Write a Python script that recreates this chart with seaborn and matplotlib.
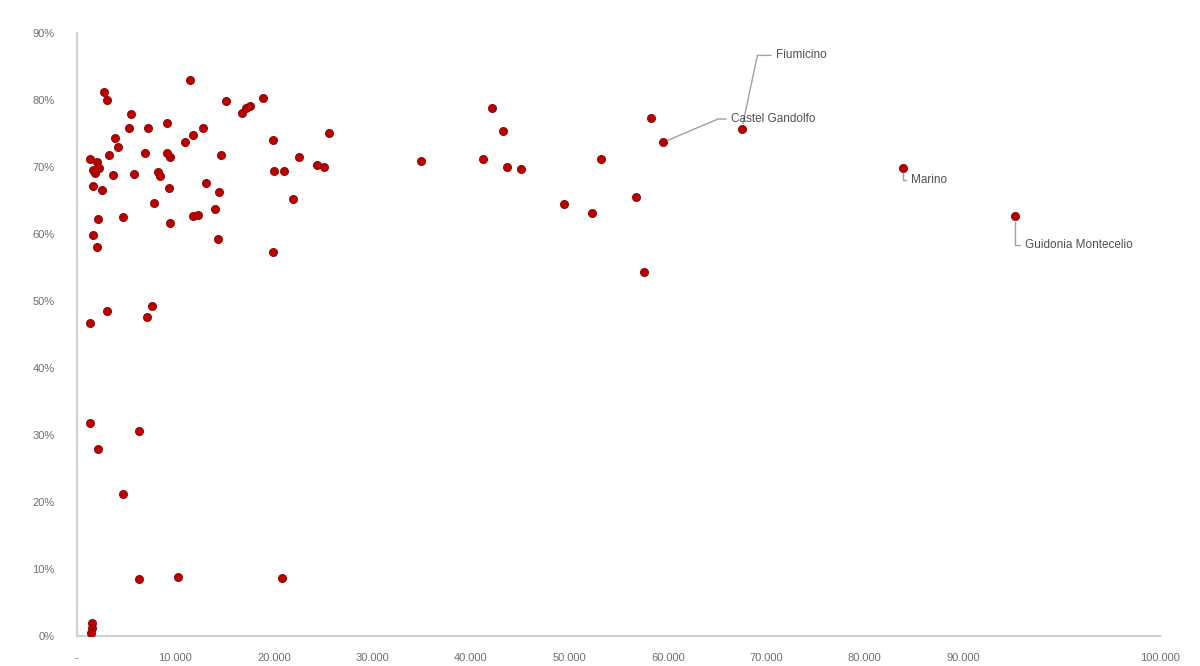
import matplotlib
matplotlib.use("Agg")
import matplotlib.pyplot as plt
import seaborn as sns
import pandas as pd

# ---- data ----
x_values = [
    11470, 2740, 3050, 15120, 16750, 17150, 17560, 18880, 5480, 5280,
    7210, 9140, 10960, 11770, 12790, 19890, 3860, 4160, 3250, 1320,
    2030, 1620, 2230, 1830, 6900, 9140, 9440, 14620, 3650, 5790,
    8220, 8420, 20000, 21010, 22530, 1620, 2540, 9340, 13090, 14410,
    7820, 21920, 2130, 4670, 9440, 11770, 12280, 14010, 1620, 2030,
    14310, 19890, 3040, 1320, 7610, 7110, 1320, 6290, 2130, 4670,
    6290, 10250, 20810, 1520, 1520, 1420, 25580, 24360, 25070, 34920,
    42120, 43240, 41210, 43650, 45070, 53190, 49430, 52270, 56740, 57550,
    58260, 59480, 67500, 83840, 95210,
]
y_values = [
    83.0, 81.2, 80.0, 79.9, 78.1, 78.8, 79.1, 80.4, 77.9, 75.8,
    75.8, 76.6, 73.7, 74.8, 75.8, 74.0, 74.3, 73.0, 71.8, 71.3,
    70.8, 69.6, 69.9, 69.1, 72.1, 72.2, 71.5, 71.9, 68.8, 69.0,
    69.3, 68.7, 69.4, 69.4, 71.5, 67.2, 66.6, 66.9, 67.6, 66.3,
    64.6, 65.2, 62.2, 62.5, 61.6, 62.7, 62.8, 63.7, 59.9, 58.1,
    59.3, 57.3, 48.5, 46.7, 49.3, 47.6, 31.8, 30.6, 27.9, 21.2,
    8.5, 8.8, 8.7, 1.9, 1.2, 0.4, 75.1, 70.3, 70.0, 70.9,
    78.8, 75.4, 71.2, 70.0, 69.7, 71.3, 64.5, 63.1, 65.5, 54.3,
    77.3, 73.7, 75.7, 69.9, 62.7,
]

label_names = ["Fiumicino", "Castel Gandolfo", "Marino", "Guidonia Montecelio"]
label_points = [(67500, 75.7), (59480, 73.7), (83840, 69.9), (95210, 62.7)]
label_text_pos = [(70950, 86.7), (66380, 77.2), (84650, 68.1), (96220, 58.4)]
label_leader_angle = [78, 23, 90, 90]

x_ticks = [0, 10000, 20000, 30000, 40000, 50000, 60000, 70000, 80000, 90000, 110000]
x_tick_labels = ["-", "10.000", "20.000", "30.000", "40.000", "50.000",
                 "60.000", "70.000", "80.000", "90.000", "100.000"]
y_ticks = [0, 10, 20, 30, 40, 50, 60, 70, 80, 90]
y_tick_labels = [f"{v}%" for v in y_ticks]

df = pd.DataFrame({"x": x_values, "y": y_values})

sns.set_style("white")
plt.rcParams["font.family"] = ["Liberation Sans", "DejaVu Sans"]

fig = plt.figure(figsize=(12, 6.66), dpi=100)
ax = fig.add_axes([0.064, 0.045, 0.903, 0.905])

sns.scatterplot(data=df, x="x", y="y", ax=ax, s=34, color="#B80000",
                edgecolor="#8E0000", linewidth=0.6, zorder=3, legend=False)

ax.set_xlim(0, 110000)
ax.set_ylim(0, 90)
ax.set_xticks(x_ticks)
ax.set_xticklabels(x_tick_labels)
ax.set_yticks(y_ticks)
ax.set_yticklabels(y_tick_labels)
ax.set_xlabel("")
ax.set_ylabel("")
ax.tick_params(axis="both", length=0, labelsize=8, labelcolor="#6E6E6E")
ax.tick_params(axis="x", pad=12)
ax.tick_params(axis="y", pad=16)

for side in ["top", "right"]:
    ax.spines[side].set_visible(False)
for side in ["left", "bottom"]:
    ax.spines[side].set_color("#D0D0D0")
    ax.spines[side].set_linewidth(1.6)
ax.grid(False)

for name, pt, tp, ang in zip(label_names, label_points, label_text_pos, label_leader_angle):
    ax.annotate(name, xy=pt, xytext=tp, ha="left", va="center",
                fontsize=8.5, color="#505050",
                arrowprops=dict(arrowstyle="-", color="#A0A0A0", lw=1,
                                shrinkA=1, shrinkB=4,
                                connectionstyle=f"angle,angleA=0,angleB={ang},rad=0"))

fig.savefig("out.png", dpi=100)
